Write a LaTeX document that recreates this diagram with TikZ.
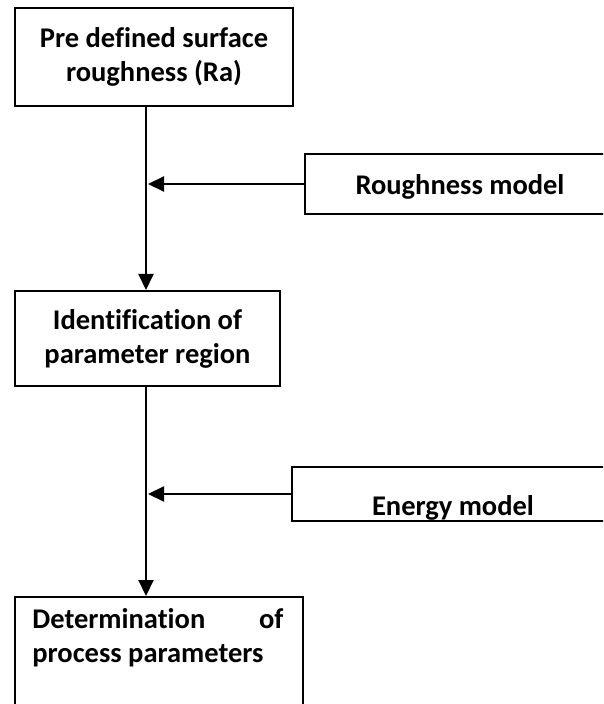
\documentclass[tikz,border=0pt]{standalone}
\usepackage{fontspec}
\setmainfont{Carlito}[Ligatures=NoCommon]
\usetikzlibrary{arrows.meta}
\begin{document}
\begin{tikzpicture}[x=0.5pt,y=-0.5pt,
  lbl/.style={font=\fontsize{14.25pt}{17pt}\selectfont\bfseries},
  box/.style={draw, line width=1pt, inner sep=0pt, align=center, lbl},
  arr/.style={line width=1pt, -{Triangle[length=8pt,width=7.5pt]}}]
\useasboundingbox (0,0) rectangle (603,704);
\clip (0,0) rectangle (603,704);
% main column boxes
\node[box, minimum width=139pt, minimum height=49pt] (b1) at (154,57)
  {Pre defined surface\\roughness (Ra)};
\node[box, minimum width=132.5pt, minimum height=47.5pt] (b2) at (147.5,338.5)
  {Identification of\\parameter region};
\node[draw, line width=1pt, minimum width=144pt, minimum height=61.5pt, inner sep=0pt]
  (b3) at (159,658.5) {};
\node[anchor=north west, inner sep=0pt, text width=125.5pt, align=justify, lbl]
  (t3) at (32,608) {Determination\hfill of\\process parameters};
% side model boxes
\node[box, minimum width=155pt, minimum height=30pt] (rm) at (460,184) {};
\node[lbl, inner sep=0pt] (rmt) at (460,187) {Roughness model};
\node[box, minimum width=161pt, minimum height=27pt] (em) at (453,494) {};
\node[lbl, inner sep=0pt] (emt) at (453,508) {Energy model};
% spine of the flow
\coordinate (sp) at (146,0);
\draw[arr] (sp |- b1.south) -- (sp |- b2.north);
\draw[arr] (sp |- b2.south) -- (sp |- b3.north);
\draw[arr] (rm.west) -- ([xshift=1pt]sp |- rm.west);
\draw[arr] (em.west) -- ([xshift=1pt]sp |- em.west);
\end{tikzpicture}
\end{document}
